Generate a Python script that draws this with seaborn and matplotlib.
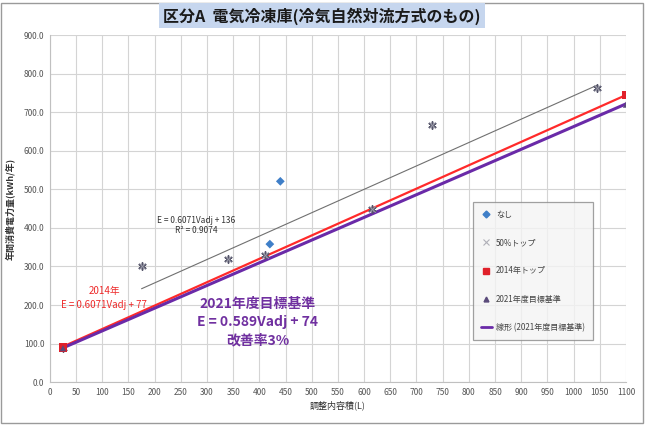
import matplotlib
matplotlib.use("Agg")
import matplotlib.pyplot as plt
import seaborn as sns
import pandas as pd
import numpy as np
from matplotlib.lines import Line2D
from matplotlib.patches import Rectangle

sns.set_theme(style="whitegrid")
plt.rcParams['font.family'] = ['Noto Sans CJK JP', 'DejaVu Sans']

# ---- data ----
nashi_x = [420, 440]
nashi_y = [358, 521]
top50_x = [25, 175, 340, 410, 615, 730, 1045]
top50_y = [88, 300, 320, 330, 450, 668, 763]
top2014_x = [25, 1100]
top2014_y = [90, 745]
std2021_x = [25, 1100]
std2021_y = [88, 720]
# lines
line2021_x = [25, 1100]
line2021_y = [88.7, 721.9]
line2014_x = [25, 1100]
line2014_y = [92.2, 744.8]
trend50_x = [175, 1045]
trend50_y = [242.2, 770.4]

x_ticks = list(range(0, 1101, 50))
y_ticks = list(range(0, 901, 100))

title = "区分A  電気冷凍庫(冷気自然対流方式のもの)"
xlabel = "調整内容積(L)"
ylabel = "年間消費電力量(kWh/年)"
labels = ["なし", "50%トップ", "2014年トップ", "2021年度目標基準", "線形 (2021年度目標基準)"]

fig = plt.figure(figsize=(6.48, 4.25), dpi=100)
ax = fig.add_axes([0.077, 0.101, 0.889, 0.816])

df_l21 = pd.DataFrame({"x": line2021_x, "y": line2021_y})
df_l14 = pd.DataFrame({"x": line2014_x, "y": line2014_y})
df_t50 = pd.DataFrame({"x": trend50_x, "y": trend50_y})
sns.lineplot(data=df_t50, x="x", y="y", ax=ax, color="#707070", lw=0.8, zorder=2)
sns.lineplot(data=df_l14, x="x", y="y", ax=ax, color="#ff2a2a", lw=1.6, zorder=3)
sns.lineplot(data=df_l21, x="x", y="y", ax=ax, color="#6a2aa8", lw=2.2, zorder=4)

sns.scatterplot(x=top50_x, y=top50_y, ax=ax, marker=(6, 2, 0), s=28, color="#55556a",
                linewidth=1.1, zorder=5)
sns.scatterplot(x=top50_x, y=top50_y, ax=ax, marker="x", s=22, color="#9a9aa8",
                linewidth=0.7, zorder=5)
sns.scatterplot(x=nashi_x, y=nashi_y, ax=ax, marker="D", s=20, color="#3f7fc8",
                edgecolor="none", zorder=6)
sns.scatterplot(x=top2014_x, y=top2014_y, ax=ax, marker="s", s=38, color="#e0202a",
                edgecolor="none", zorder=6)
sns.scatterplot(x=std2021_x, y=std2021_y, ax=ax, marker="^", s=20, color="#5a4a7a",
                edgecolor="none", zorder=7)

ax.set_xlim(0, 1100)
ax.set_ylim(0, 900)
ax.set_xticks(x_ticks)
ax.set_yticks(y_ticks)
ax.set_xticklabels([str(v) for v in x_ticks])
ax.set_yticklabels([f"{v:.1f}" for v in y_ticks])
ax.tick_params(axis="both", labelsize=6, colors="#555555", length=0, pad=4)
ax.grid(True, color="#d4d4d4", lw=0.8)
for s in ["top", "right"]:
    ax.spines[s].set_visible(False)
for s in ["left", "bottom"]:
    ax.spines[s].set_color("#c0c0c0")
    ax.spines[s].set_linewidth(0.8)
ax.set_xlabel(xlabel, fontsize=6.5, color="#333333", labelpad=3)
ax.set_ylabel(ylabel, fontsize=6.5, color="#333333", fontweight="bold", labelpad=6)

# annotations
ax.text(279, 420, "E = 0.6071Vadj + 136", fontsize=6, color="#333333", ha="center", va="center")
ax.text(279, 394, "R² = 0.9074", fontsize=6, color="#333333", ha="center", va="center")
ax.text(105, 237, "2014年", fontsize=7, color="#ee2a2a", ha="center", va="center")
ax.text(103, 200, "E = 0.6071Vadj + 77", fontsize=7, color="#ee2a2a", ha="center", va="center")
ax.text(397, 203, "2021年度目標基準", fontsize=10, color="#7030a0", ha="center", va="center", fontweight="bold")
ax.text(397, 156, "E = 0.589Vadj + 74", fontsize=10, color="#7030a0", ha="center", va="center", fontweight="bold")
ax.text(397, 109, "改善率3%", fontsize=10, color="#7030a0", ha="center", va="center", fontweight="bold")

# legend
handles = [
    Line2D([], [], ls="none", marker="D", ms=3.5, color="#3f7fc8"),
    Line2D([], [], ls="none", marker="x", ms=4, color="#b0b0b8", mew=0.8),
    Line2D([], [], ls="none", marker="s", ms=5, color="#e0202a"),
    Line2D([], [], ls="none", marker="^", ms=3.5, color="#5a4a7a"),
    Line2D([], [], color="#6a2aa8", lw=2),
]
leg = ax.legend(handles, labels, loc="upper left", bbox_to_anchor=(0.734, 0.52),
                fontsize=5.8, labelspacing=2.4, frameon=True, fancybox=False,
                borderpad=1.0, borderaxespad=0, handlelength=1.4, handletextpad=0.5)
leg.get_frame().set_facecolor("#f4f4f4")
leg.get_frame().set_edgecolor("#8a8a8a")
leg.get_frame().set_linewidth(0.9)
for t in leg.get_texts():
    t.set_color("#444444")

# title with light blue box
fig.text(0.497, 0.963, title, fontsize=11.5, fontweight="bold", color="#1a1a1a",
         ha="center", va="center",
         bbox=dict(boxstyle="square,pad=0.25", facecolor="#c6d6ee", edgecolor="none"))

# outer frame
fig.patches.append(Rectangle((0.002, 0.004), 0.99, 0.99, transform=fig.transFigure,
                             fill=False, edgecolor="#9a9a9a", lw=1.0))

fig.savefig("out.png", dpi=100)
